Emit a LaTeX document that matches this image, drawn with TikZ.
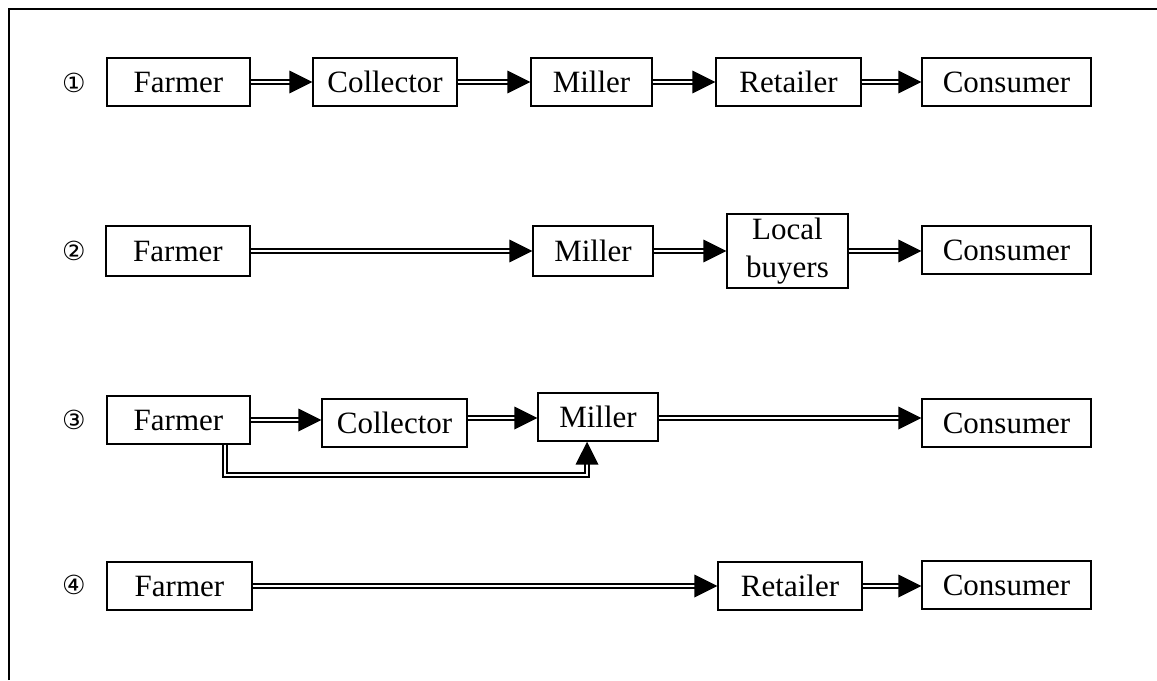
\documentclass[tikz,border=0pt]{standalone}
\usepackage{fontspec}
\setmainfont{Liberation Serif}
\newfontfamily\circfont{DejaVu Sans}
\usetikzlibrary{arrows.meta}
\begin{document}
\begin{tikzpicture}[x=0.4pt,y=-0.4pt,
 box/.style={draw,line width=0.55pt,inner sep=0pt,minimum height=19.2pt,align=center,font=\fontsize{12.4}{13.2}\selectfont},
 num/.style={font=\circfont\fontsize{10.5}{10.5}\selectfont},
 flow/.style={double,double distance=0.9pt,line width=0.75pt,-{Triangle[length=9.2pt,width=9pt]}}]
 \useasboundingbox (0,0) rectangle (1157,680);
 \draw[line width=0.8pt] (9,680)--(9,9)--(1157,9);
 \node[num] (n1) at (74,83) {①};
 \node[box,minimum width=57.2pt] (f1) at (178.5,82) {Farmer};
 \node[box,minimum width=57.6pt] (c1) at (385,82) {Collector};
 \node[box,minimum width=48.4pt] (m1) at (591.5,82) {Miller};
 \node[box,minimum width=58pt] (r1) at (788.5,82) {Retailer};
 \node[box,minimum width=67.6pt] (k1) at (1006.5,82) {Consumer};
 \draw[flow] (f1.east)--(f1.east -| c1.west);
 \draw[flow] (c1.east)--(c1.east -| m1.west);
 \draw[flow] (m1.east)--(m1.east -| r1.west);
 \draw[flow] (r1.east)--(r1.east -| k1.west);
 \node[num] (n2) at (74,251) {②};
 \node[box,minimum width=57.6pt,minimum height=20pt] (f2) at (178,251) {Farmer};
 \node[box,minimum width=48pt,minimum height=20pt] (m2) at (593,251) {Miller};
 \node[box,minimum width=48.4pt,minimum height=29.6pt,font=\fontsize{12.4}{15}\selectfont] (l2) at (787.5,251) {Local\\buyers};
 \node[box,minimum width=67.6pt] (k2) at (1006.5,250) {Consumer};
 \draw[flow] (f2.east)--(f2.east -| m2.west);
 \draw[flow] (m2.east)--(m2.east -| l2.west);
 \draw[flow] (l2.east)--(l2.east -| k2.west);
 \node[num] (n3) at (74,420) {③};
 \node[box,minimum width=57.2pt] (f3) at (178.5,420) {Farmer};
 \node[box,minimum width=58pt] (c3) at (394.5,423) {Collector};
 \node[box,minimum width=48pt] (m3) at (598,417) {Miller};
 \node[box,minimum width=67.6pt] (k3) at (1006.5,423) {Consumer};
 \coordinate (b3) at (225,475);
 \draw[flow] (f3.east)--(f3.east -| c3.west);
 \draw[flow] (c3.west |- 418,418 -| c3.east)--(m3.west |- 418,418);
 \draw[flow] (m3.east |- 418,418)--(k3.west |- 418,418);
 \draw[flow] (f3.south -| b3)|-([xshift=-4.4pt]m3.south |- b3)--([xshift=-4.4pt]m3.south);
 \node[num] (n4) at (74,585) {④};
 \node[box,minimum width=58pt] (f4) at (179.5,586) {Farmer};
 \node[box,minimum width=57.6pt] (r4) at (790,586) {Retailer};
 \node[box,minimum width=67.6pt] (k4) at (1006.5,585) {Consumer};
 \draw[flow] (f4.east)--(f4.east -| r4.west);
 \draw[flow] (r4.east)--(r4.east -| k4.west);
\end{tikzpicture}
\end{document}
